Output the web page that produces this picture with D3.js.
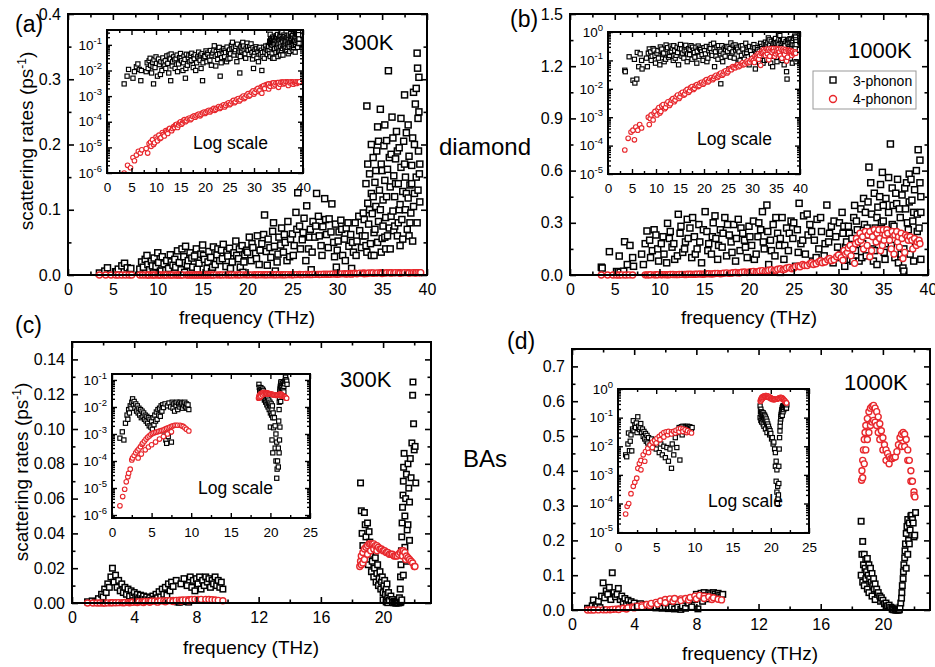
<!DOCTYPE html>
<html>
<head>
<meta charset="utf-8">
<script src="https://cdn.jsdelivr.net/npm/d3@7.9.0/dist/d3.min.js"></script>
<style>
  body { margin: 0; background: #fff; }
  text { font-family: "Liberation Sans", Arial, Helvetica, sans-serif; fill: #000; }
</style>
</head>
<body>
<svg id="fig" width="935" height="667"></svg>
<script>
// ---- data: [frequency (THz), scattering rate (ps^-1)] ----
const diamond300_3ph = [
  [3.5,0.003],[4.1,0.006],[4.4,0.011],[5.3,0.005],[5.6,0.009],[6.0,0.014],[6.3,0.018],[6.6,0.011],[6.9,0.004],[7.0,0.010],
  [8.0,0.009],[8.2,0.020],[8.4,0.012],[8.6,0.024],[8.8,0.030],[8.9,0.016],[9.1,0.008],[9.3,0.021],[9.4,0.014],[9.5,0.003],
  [9.6,0.026],[9.8,0.013],[10.0,0.034],[10.1,0.019],[10.3,0.006],[10.5,0.028],[10.7,0.017],[10.9,0.007],[11.0,0.022],[11.2,0.010],
  [11.4,0.031],[11.5,0.020],[11.7,0.015],[11.9,0.024],[12.0,0.012],[12.2,0.037],[12.4,0.019],[12.6,0.008],[12.7,0.040],[12.9,0.028],
  [13.0,0.004],[13.1,0.044],[13.3,0.015],[13.4,0.022],[13.6,0.034],[13.8,0.026],[13.9,0.012],[14.1,0.029],[14.3,0.040],[14.4,0.009],
  [14.6,0.018],[14.8,0.032],[15.0,0.046],[15.1,0.030],[15.2,0.024],[15.5,0.010],[15.6,0.020],[15.7,0.036],[15.9,0.027],[16.0,0.005],
  [16.1,0.012],[16.2,0.043],[16.4,0.016],[16.6,0.031],[16.7,0.040],[16.9,0.022],[17.1,0.038],[17.2,0.025],[17.3,0.047],[17.6,0.013],
  [17.7,0.035],[17.8,0.029],[18.0,0.041],[18.1,0.010],[18.3,0.020],[18.5,0.034],[18.7,0.052],[18.8,0.030],[19.0,0.025],[19.1,0.040],
  [19.2,0.012],[19.4,0.045],[19.5,0.004],[19.6,0.020],[19.7,0.031],[19.9,0.038],[20.0,0.035],[20.2,0.058],[20.4,0.022],[20.5,0.048],
  [20.6,0.042],[20.9,0.033],[21.0,0.025],[21.1,0.060],[21.3,0.016],[21.4,0.038],[21.6,0.048],[21.8,0.062],[21.9,0.092],[22.1,0.036],
  [22.2,0.015],[22.3,0.055],[22.5,0.042],[22.6,0.027],[22.8,0.067],[22.9,0.080],[23.0,0.044],[23.1,0.006],[23.3,0.020],[23.4,0.032],
  [23.5,0.058],[23.7,0.046],[23.8,0.072],[24.0,0.035],[24.1,0.062],[24.2,0.050],[24.4,0.022],[24.5,0.082],[24.7,0.028],[24.8,0.055],
  [25.0,0.063],[25.1,0.030],[25.2,0.045],[25.4,0.096],[25.5,0.070],[25.6,0.126],[25.8,0.075],[25.9,0.040],[26.1,0.054],[26.2,0.065],
  [26.3,0.087],[26.5,0.022],[26.6,0.106],[26.8,0.040],[26.9,0.058],[27.0,0.070],[27.1,0.008],[27.2,0.035],[27.3,0.082],[27.5,0.058],
  [27.6,0.075],[27.7,0.125],[27.9,0.090],[28.0,0.060],[28.2,0.045],[28.3,0.030],[28.4,0.074],[28.6,0.117],[28.7,0.085],[28.8,0.062],
  [29.0,0.042],[29.1,0.086],[29.3,0.066],[29.4,0.109],[29.6,0.050],[29.7,0.028],[29.8,0.078],[29.9,0.012],[30.0,0.038],[30.1,0.052],
  [30.2,0.066],[30.4,0.084],[30.5,0.070],[30.6,0.030],[30.8,0.055],[30.9,0.022],[31.0,0.072],[31.2,0.080],[31.3,0.044],[31.5,0.062],
  [31.6,0.010],[31.7,0.050],[31.8,0.035],[32.0,0.080],[32.1,0.030],[32.2,0.052],[32.4,0.090],[32.5,0.068],[32.7,0.042],[32.8,0.060],
  [32.9,0.095],[33.0,0.085],[33.1,0.060],[33.2,0.140],[33.2,0.045],[33.3,0.259],[33.3,0.035],[33.4,0.110],[33.4,0.170],[33.5,0.078],
  [33.6,0.155],[33.6,0.100],[33.7,0.048],[33.8,0.125],[33.8,0.030],[33.8,0.200],[33.9,0.094],[34.0,0.180],[34.0,0.120],[34.1,0.065],
  [34.1,0.030],[34.2,0.142],[34.2,0.070],[34.3,0.105],[34.3,0.160],[34.4,0.190],[34.5,0.227],[34.5,0.050],[34.6,0.082],[34.6,0.205],
  [34.7,0.130],[34.8,0.254],[34.8,0.100],[34.9,0.170],[34.9,0.035],[35.0,0.056],[35.0,0.160],[35.1,0.115],[35.1,0.075],[35.2,0.198],
  [35.3,0.145],[35.3,0.058],[35.3,0.230],[35.4,0.088],[35.4,0.040],[35.5,0.206],[35.5,0.120],[35.6,0.162],[35.6,0.060],[35.7,0.313],
  [35.8,0.072],[35.8,0.180],[35.9,0.135],[35.9,0.040],[36.0,0.185],[36.0,0.090],[36.1,0.242],[36.2,0.098],[36.2,0.210],[36.3,0.152],
  [36.3,0.068],[36.4,0.120],[36.4,0.075],[36.5,0.178],[36.5,0.140],[36.6,0.220],[36.7,0.060],[36.7,0.190],[36.8,0.140],[36.8,0.080],
  [36.9,0.195],[36.9,0.100],[37.0,0.108],[37.0,0.045],[37.1,0.165],[37.1,0.240],[37.2,0.085],[37.3,0.128],[37.3,0.055],[37.4,0.205],
  [37.5,0.276],[37.5,0.170],[37.6,0.150],[37.6,0.100],[37.7,0.218],[37.7,0.125],[37.8,0.070],[37.9,0.118],[37.9,0.230],[38.0,0.182],
  [38.0,0.060],[38.1,0.138],[38.1,0.080],[38.2,0.095],[38.3,0.168],[38.3,0.140],[38.4,0.210],[38.4,0.052],[38.5,0.280],[38.5,0.105],
  [38.6,0.125],[38.6,0.200],[38.7,0.262],[38.8,0.286],[38.8,0.150],[38.9,0.340],[38.9,0.080],[38.95,0.317],[39.0,0.240],[39.0,0.130],
  [39.05,0.190],[39.1,0.303],[39.1,0.250],[39.15,0.155],[39.2,0.112],[39.2,0.170]
];
const diamond300_4ph = [
  [3.5,1.0e-6],[4.2,2.0e-6],[4.8,1.6e-6],[5.3,4e-6],[5.6,3e-6],[6.0,5e-6],[6.4,7e-6],[6.8,6e-6],[7.1,8e-6],[8.0,9e-6],
  [8.3,6e-6],[8.6,1.4e-5],[8.9,1.6e-5],[9.0,1.1e-5],[9.3,2.0e-5],[9.5,1.3e-5],[9.7,1.5e-5],[10.0,2.5e-5],[10.2,2.1e-5],[10.3,1.8e-5],
  [10.6,3.0e-5],[10.8,2.2e-5],[11.0,2.4e-5],[11.3,3.8e-5],[11.5,3.2e-5],[11.7,2.8e-5],[12.0,4.5e-5],[12.2,4e-5],[12.4,3.5e-5],[12.6,5.0e-5],
  [12.8,5.5e-5],[13.2,4.5e-5],[13.4,5.5e-5],[13.6,6.5e-5],[13.8,6e-5],[14.0,7.5e-5],[14.2,8e-5],[14.4,6.0e-5],[14.6,7.5e-5],[14.8,9.0e-5],
  [15.0,1.0e-4],[15.2,8.0e-5],[15.4,9e-5],[15.6,1.1e-4],[15.8,1.2e-4],[16.0,1.0e-4],[16.2,1.1e-4],[16.5,1.3e-4],[16.8,1.4e-4],[17.0,1.2e-4],
  [17.2,1.3e-4],[17.5,1.6e-4],[17.8,1.7e-4],[18.0,1.5e-4],[18.2,1.7e-4],[18.5,1.9e-4],[18.8,2.0e-4],[19.0,1.7e-4],[19.2,1.9e-4],[19.5,2.2e-4],
  [19.8,2.4e-4],[20.0,2.1e-4],[20.2,2.3e-4],[20.5,2.6e-4],[20.8,2.8e-4],[21.0,2.4e-4],[21.2,2.7e-4],[21.5,3.0e-4],[21.8,3.3e-4],[22.0,2.8e-4],
  [22.2,3.1e-4],[22.5,3.5e-4],[22.8,3.9e-4],[23.0,3.3e-4],[23.2,3.6e-4],[23.5,4.2e-4],[23.8,4.6e-4],[24.0,3.8e-4],[24.2,4.3e-4],[24.5,5.0e-4],
  [24.8,5.5e-4],[25.0,4.6e-4],[25.2,5.0e-4],[25.5,6.0e-4],[25.8,6.8e-4],[26.0,5.5e-4],[26.2,6.0e-4],[26.5,7.5e-4],[26.8,8.0e-4],[27.0,6.5e-4],
  [27.2,7.2e-4],[27.5,9.0e-4],[27.8,1.0e-3],[28.0,8.0e-4],[28.2,9.0e-4],[28.5,1.1e-3],[28.8,1.25e-3],[29.0,1.0e-3],[29.2,1.1e-3],[29.5,1.4e-3],
  [29.8,1.6e-3],[30.0,1.2e-3],[30.2,1.4e-3],[30.5,1.8e-3],[30.8,2.0e-3],[31.0,1.5e-3],[31.2,1.7e-3],[31.5,2.3e-3],[31.6,1.3e-3],[31.8,2.4e-3],
  [32.0,2.6e-3],[32.2,2.0e-3],[32.5,2.8e-3],[32.8,2.9e-3],[33.0,3.0e-3],[33.0,1.9e-3],[33.3,2.4e-3],[33.5,3.1e-3],[33.8,3.2e-3],[34.0,2.5e-3],
  [34.0,3.3e-3],[34.3,2.8e-3],[34.5,3.3e-3],[34.8,3.4e-3],[35.0,3.4e-3],[35.0,2.2e-3],[35.3,2.9e-3],[35.5,3.5e-3],[35.8,3.5e-3],[36.0,3.0e-3],
  [36.0,3.5e-3],[36.3,3.2e-3],[36.5,3.6e-3],[36.8,3.6e-3],[37.0,3.5e-3],[37.0,2.6e-3],[37.3,3.3e-3],[37.5,3.6e-3],[37.8,3.6e-3],[38.0,3.5e-3],
  [38.0,2.9e-3],[38.3,3.3e-3],[38.5,3.6e-3],[38.7,3.1e-3],[38.8,3.6e-3],[39.0,3.6e-3],[39.2,3.4e-3],[39.3,3.6e-3]
];
const diamond1000_3ph = [
  [3.5,0.045],[3.6,0.04],[4.4,0.134],[5.2,0.02],[5.5,0.109],[5.6,0.016],[6.0,0.022],[6.1,0.191],[6.4,0.06],[6.7,0.17],
  [7.0,0.10],[7.1,0.05],[8.0,0.12],[8.2,0.06],[8.4,0.18],[8.6,0.253],[8.9,0.20],[9.0,0.10],[9.2,0.14],[9.4,0.26],
  [9.6,0.23],[9.8,0.15],[9.9,0.08],[10.2,0.18],[10.4,0.22],[10.5,0.12],[10.8,0.07],[10.9,0.297],[11.1,0.21],[11.2,0.25],
  [11.4,0.16],[11.6,0.18],[11.7,0.09],[12.0,0.11],[12.1,0.349],[12.3,0.24],[12.4,0.28],[12.6,0.13],[12.8,0.15],[12.9,0.19],
  [13.1,0.32],[13.2,0.21],[13.4,0.27],[13.6,0.10],[13.7,0.33],[13.9,0.22],[14.0,0.12],[14.2,0.15],[14.4,0.29],[14.5,0.19],
  [14.7,0.07],[14.9,0.26],[15.1,0.364],[15.3,0.25],[15.4,0.14],[15.5,0.18],[15.8,0.12],[15.9,0.22],[16.0,0.30],[16.2,0.34],
  [16.3,0.21],[16.5,0.09],[16.6,0.17],[16.8,0.26],[17.0,0.16],[17.1,0.24],[17.3,0.33],[17.5,0.11],[17.6,0.29],[17.8,0.23],
  [18.0,0.19],[18.1,0.13],[18.3,0.29],[18.5,0.08],[18.6,0.21],[18.8,0.32],[19.0,0.14],[19.1,0.27],[19.3,0.24],[19.5,0.20],
  [19.6,0.16],[19.8,0.10],[20.0,0.28],[20.1,0.22],[20.3,0.17],[20.5,0.31],[20.6,0.09],[20.8,0.12],[21.0,0.22],[21.1,0.30],
  [21.3,0.26],[21.5,0.364],[21.6,0.19],[21.7,0.15],[22.0,0.402],[22.1,0.25],[22.2,0.06],[22.4,0.20],[22.5,0.14],[22.7,0.29],
  [22.9,0.11],[23.0,0.33],[23.2,0.24],[23.4,0.17],[23.5,0.015],[23.5,0.21],[23.7,0.33],[23.9,0.09],[24.0,0.17],[24.2,0.27],
  [24.4,0.14],[24.5,0.24],[24.7,0.31],[24.9,0.21],[25.0,0.30],[25.2,0.05],[25.4,0.26],[25.5,0.13],[25.6,0.412],[25.8,0.18],
  [26.0,0.20],[26.1,0.34],[26.3,0.12],[26.5,0.35],[26.6,0.23],[26.8,0.29],[27.0,0.25],[27.1,0.08],[27.3,0.20],[27.5,0.10],
  [27.6,0.32],[27.8,0.15],[28.0,0.33],[28.1,0.25],[28.4,0.11],[28.5,0.18],[28.7,0.402],[28.9,0.19],[29.0,0.24],[29.2,0.28],
  [29.4,0.07],[29.5,0.31],[29.7,0.22],[29.9,0.16],[30.0,0.10],[30.1,0.30],[30.3,0.12],[30.4,0.36],[30.5,0.24],[30.6,0.28],
  [30.7,0.05],[30.8,0.16],[30.9,0.19],[31.0,0.13],[31.1,0.28],[31.2,0.24],[31.3,0.09],[31.5,0.21],[31.6,0.08],[31.7,0.33],
  [31.8,0.40],[31.9,0.14],[32.0,0.31],[32.1,0.26],[32.3,0.08],[32.4,0.20],[32.5,0.38],[32.6,0.10],[32.7,0.18],[32.8,0.44],
  [32.9,0.29],[33.0,0.36],[33.1,0.11],[33.2,0.27],[33.3,0.42],[33.4,0.62],[33.5,0.23],[33.6,0.53],[33.7,0.35],[33.8,0.15],
  [33.9,0.08],[34.0,0.47],[34.0,0.14],[34.1,0.27],[34.3,0.06],[34.3,0.33],[34.4,0.39],[34.6,0.20],[34.6,0.45],[34.7,0.52],
  [34.8,0.30],[34.9,0.59],[35.0,0.31],[35.0,0.40],[35.1,0.13],[35.2,0.09],[35.3,0.44],[35.3,0.18],[35.4,0.24],[35.6,0.36],
  [35.6,0.56],[35.8,0.753],[35.9,0.17],[36.0,0.50],[36.0,0.29],[36.1,0.40],[36.2,0.28],[36.3,0.10],[36.4,0.47],[36.5,0.41],
  [36.6,0.55],[36.7,0.07],[36.8,0.22],[36.8,0.38],[36.9,0.33],[37.0,0.12],[37.1,0.46],[37.2,0.04],[37.3,0.15],[37.3,0.022],
  [37.4,0.50],[37.5,0.38],[37.6,0.53],[37.7,0.30],[37.8,0.26],[37.9,0.58],[37.9,0.42],[38.0,0.12],[38.1,0.55],[38.2,0.43],
  [38.3,0.31],[38.4,0.08],[38.4,0.36],[38.5,0.49],[38.6,0.19],[38.7,0.60],[38.8,0.35],[38.8,0.25],[38.9,0.72],[39.0,0.27],
  [39.1,0.66],[39.1,0.53],[39.2,0.45],[39.2,0.09],[39.2,0.36]
];
const diamond1000_4ph = [
  [3.5,7e-5],[4.2,1.8e-4],[4.8,3e-4],[5.2,3.5e-4],[5.5,1.6e-4],[5.8,4.5e-4],[6.2,3.5e-4],[6.6,5.5e-4],[7.0,4.2e-4],[8.4,1.0e-3],
  [8.6,5.5e-4],[8.8,9e-4],[9.0,1.2e-3],[9.4,8e-4],[9.6,1.4e-3],[9.8,1.6e-3],[10.2,1.2e-3],[10.4,1.9e-3],[10.6,2.2e-3],[10.8,1.4e-3],
  [11.0,1.6e-3],[11.2,2.5e-3],[11.5,2.8e-3],[11.8,2.0e-3],[12.0,2.2e-3],[12.2,3.0e-3],[12.5,3.5e-3],[12.8,2.6e-3],[13.0,3.0e-3],[13.2,4.0e-3],
  [13.5,4.5e-3],[13.8,3.5e-3],[14.0,4.0e-3],[14.2,5.2e-3],[14.5,6.0e-3],[14.8,4.6e-3],[15.0,5.2e-3],[15.2,6.8e-3],[15.5,7.5e-3],[15.8,6.0e-3],
  [16.0,6.5e-3],[16.2,8.5e-3],[16.5,9.5e-3],[16.8,7.5e-3],[17.0,8.5e-3],[17.2,1.1e-2],[17.5,1.2e-2],[17.8,9.5e-3],[18.0,1.05e-2],[18.2,1.3e-2],
  [18.5,1.4e-2],[18.8,1.2e-2],[19.0,1.3e-2],[19.2,1.6e-2],[19.5,1.7e-2],[19.8,1.45e-2],[20.0,1.6e-2],[20.2,1.9e-2],[20.5,2.1e-2],[20.8,1.75e-2],
  [21.0,1.9e-2],[21.2,2.3e-2],[21.5,2.5e-2],[21.8,2.1e-2],[22.0,2.3e-2],[22.2,2.7e-2],[22.5,3.0e-2],[22.8,2.5e-2],[23.0,2.8e-2],[23.2,3.3e-2],
  [23.5,3.6e-2],[23.8,3.0e-2],[24.0,3.3e-2],[24.2,4.0e-2],[24.5,4.3e-2],[24.8,3.6e-2],[25.0,4.0e-2],[25.2,4.8e-2],[25.5,5.2e-2],[25.7,4.7e-2],
  [26.0,6.0e-2],[26.2,5.5e-2],[26.5,5.5e-2],[26.8,6.5e-2],[27.0,7.0e-2],[27.2,6.0e-2],[27.5,6.5e-2],[27.8,7.6e-2],[28.0,8.2e-2],[28.2,7.0e-2],
  [28.5,7.5e-2],[28.8,8.8e-2],[29.0,9.5e-2],[29.2,8.2e-2],[29.5,8.8e-2],[29.8,0.105],[30.0,0.115],[30.3,0.10],[30.5,0.085],[30.6,0.14],
  [30.8,0.12],[31.0,0.13],[31.1,0.155],[31.3,0.17],[31.4,0.11],[31.6,0.15],[31.8,0.067],[31.9,0.18],[32.0,0.21],[32.2,0.19],
  [32.4,0.24],[32.5,0.20],[32.7,0.22],[32.8,0.15],[33.0,0.25],[33.2,0.17],[33.3,0.23],[33.5,0.105],[33.5,0.25],[33.7,0.14],
  [33.8,0.22],[34.0,0.26],[34.2,0.19],[34.3,0.24],[34.5,0.26],[34.6,0.21],[34.7,0.14],[34.9,0.17],[35.0,0.26],[35.1,0.20],
  [35.2,0.23],[35.4,0.26],[35.5,0.24],[35.7,0.20],[35.9,0.15],[36.0,0.25],[36.2,0.12],[36.3,0.23],[36.5,0.25],[36.6,0.19],
  [36.7,0.22],[36.8,0.16],[37.0,0.24],[37.1,0.21],[37.2,0.095],[37.4,0.13],[37.5,0.23],[37.7,0.22],[37.8,0.20],[38.0,0.22],
  [38.2,0.20],[38.3,0.15],[38.5,0.21],[38.7,0.17],[38.8,0.19],[39.0,0.20],[39.1,0.18]
];
const bas300_3ph = [
  [1.0,7e-4],[1.3,1.2e-3],[1.5,6e-4],[1.7,2.5e-3],[1.9,5e-3],[2.0,3.5e-3],[2.1,8e-3],[2.2,0.006],[2.3,0.011],[2.4,0.009],
  [2.5,0.015],[2.6,0.020],[2.7,0.012],[2.8,0.016],[2.9,0.009],[3.0,0.013],[3.1,0.007],[3.2,0.011],[3.3,0.006],[3.4,0.009],
  [3.5,0.005],[3.6,0.008],[3.7,0.004],[3.8,0.007],[3.9,0.0045],[4.0,0.006],[4.1,0.0035],[4.2,0.005],[4.3,0.003],[4.4,0.0045],
  [4.5,0.0025],[4.6,0.004],[4.7,0.002],[4.8,0.0035],[4.9,0.0018],[5.0,0.003],[5.1,0.0015],[5.2,0.004],[5.3,0.0022],[5.4,0.005],
  [5.5,0.003],[5.6,0.0065],[5.7,0.0035],[5.8,0.008],[5.9,0.005],[6.0,0.009],[6.1,0.0045],[6.2,0.011],[6.3,0.007],[6.4,0.012],
  [6.5,0.0095],[6.6,0.0013],[6.7,0.013],[6.8,0.0006],[6.9,0.00045],[7.0,0.011],[7.1,0.0008],[7.2,0.014],[7.3,0.0012],[7.4,0.010],
  [7.5,0.0005],[7.6,0.015],[7.7,0.009],[7.8,0.013],[7.9,0.007],[8.0,0.014],[8.1,0.011],[8.2,0.015],[8.3,0.008],[8.4,0.013],
  [8.5,0.010],[8.6,0.015],[8.7,0.012],[8.8,0.014],[8.9,0.009],[9.0,0.013],[9.1,0.011],[9.2,0.015],[9.3,0.010],[9.4,0.013],
  [9.5,0.009],[9.6,0.012],[9.7,0.008],
  [18.55,0.069],[18.6,0.053],[18.65,0.040],[18.7,0.033],[18.75,0.026],[18.8,0.052],[18.85,0.045],[18.9,0.038],[18.95,0.030],[19.0,0.046],
  [19.05,0.022],[19.1,0.041],[19.15,0.035],[19.2,0.028],[19.25,0.018],[19.3,0.024],[19.35,0.031],[19.4,0.015],[19.45,0.020],[19.5,0.026],
  [19.55,0.012],[19.6,0.017],[19.65,0.022],[19.7,0.010],[19.75,0.014],[19.8,0.018],[19.85,0.008],[19.9,0.012],[19.95,0.015],[20.0,0.006],
  [20.0,0.0018],[20.05,0.010],[20.1,0.013],[20.15,0.005],[20.2,0.008],[20.2,0.0006],[20.25,0.011],[20.3,0.004],[20.3,0.0002],[20.35,0.006],
  [20.4,0.0017],[20.5,0.004],[20.6,0.002],[20.6,0.0003],[20.7,0.001],[20.7,0.0001],[20.8,0.0005],[20.8,0.000023],[20.85,0.00005],[20.9,0.0001],
  [21.0,0.00006],[21.0,0.0003],[21.05,0.003],[21.1,0.0002],[21.1,0.008],[21.12,0.015],[21.15,0.0006],[21.15,0.022],[21.18,0.030],[21.2,0.0018],
  [21.2,0.038],[21.22,0.046],[21.25,0.055],[21.28,0.062],[21.3,0.070],[21.3,0.016],[21.32,0.078],[21.35,0.086],[21.4,0.050],[21.4,0.032],
  [21.45,0.060],[21.5,0.074],[21.5,0.024],[21.55,0.042],[21.6,0.080],[21.6,0.045],[21.65,0.066],[21.7,0.058],[21.7,0.036],[21.75,0.083],
  [21.8,0.072],[21.85,0.092],[21.9,0.1194],[21.92,0.127],[21.96,0.103],[22.0,0.088],[22.06,0.090],[22.1,0.069]
];
const bas300_4ph = [
  [1.0,2.2e-6],[1.35,4.8e-6],[1.6,9e-6],[1.8,1.7e-5],[2.0,2.6e-5],[2.1,3.5e-5],[2.3,5e-5],[2.5,1.1e-4],[2.6,1.3e-4],[2.8,1.6e-4],
  [3.0,2.0e-4],[3.2,2.4e-4],[3.3,1.3e-4],[3.4,2.8e-4],[3.6,3.4e-4],[3.7,1.8e-4],[3.8,4.2e-4],[3.9,4.6e-4],[4.1,5.5e-4],[4.2,2.6e-4],
  [4.3,6.5e-4],[4.5,7.5e-4],[4.6,3.3e-4],[4.7,8.5e-4],[4.9,9.5e-4],[5.0,4e-4],[5.1,1.05e-3],[5.3,1.1e-3],[5.5,1.15e-3],[5.5,5e-4],
  [5.7,1.2e-3],[5.9,1.25e-3],[6.0,6.5e-4],[6.1,1.3e-3],[6.3,1.35e-3],[6.5,1.4e-3],[6.5,8e-4],[6.7,1.5e-3],[6.9,1.6e-3],[7.0,1.0e-3],
  [7.1,1.7e-3],[7.3,1.8e-3],[7.5,1.9e-3],[7.5,1.2e-3],[7.7,2.0e-3],[7.9,2.1e-3],[8.1,2.1e-3],[8.3,2.1e-3],[8.6,2.1e-3],[8.8,2.0e-3],
  [9.0,1.9e-3],[9.2,1.7e-3],[9.4,1.5e-3],[9.7,1.3e-3],
  [18.5,0.021],[18.55,0.024],[18.6,0.027],[18.6,0.022],[18.7,0.029],[18.7,0.023],[18.8,0.031],[18.8,0.025],[18.9,0.032],[19.0,0.033],
  [19.0,0.028],[19.1,0.034],[19.2,0.034],[19.2,0.030],[19.3,0.034],[19.4,0.034],[19.4,0.031],[19.5,0.033],[19.6,0.033],[19.6,0.030],
  [19.7,0.032],[19.8,0.031],[19.9,0.031],[20.0,0.030],[20.1,0.030],[20.2,0.029],[20.3,0.029],[20.4,0.028],[20.5,0.028],[20.6,0.028],
  [20.7,0.027],[20.8,0.027],[20.9,0.027],[21.0,0.028],[21.1,0.029],[21.2,0.030],[21.25,0.027],[21.3,0.030],[21.4,0.029],[21.45,0.025],
  [21.5,0.027],[21.6,0.026],[21.7,0.025],[21.8,0.024],[21.9,0.023],[22.0,0.021],[22.05,0.021]
];
const bas1000_3ph = [
  [1.0,0.005],[1.14,0.0043],[1.3,0.012],[1.37,0.029],[1.5,0.007],[1.6,0.015],[1.7,0.025],[1.8,0.0069],[1.9,0.040],[2.0,0.078],
  [2.1,0.035],[2.2,0.055],[2.3,0.045],[2.4,0.065],[2.5,0.030],[2.59,0.107],[2.7,0.050],[2.8,0.038],[2.9,0.045],[2.98,0.062],
  [3.1,0.030],[3.2,0.040],[3.3,0.022],[3.4,0.033],[3.5,0.018],[3.6,0.028],[3.7,0.015],[3.8,0.024],[3.9,0.013],[4.0,0.020],
  [4.2,0.011],[4.4,0.018],[4.6,0.009],[4.8,0.016],[5.0,0.008],[5.2,0.014],[5.4,0.006],[5.6,0.012],[5.8,0.005],[6.0,0.010],
  [6.2,0.004],[6.4,0.009],[6.6,0.003],[6.8,0.008],[7.0,0.0017],[7.1,0.012],[7.3,0.005],[7.5,0.020],[7.7,0.009],[7.9,0.030],
  [8.0,0.045],[8.1,0.0033],[8.2,0.038],[8.3,0.048],[8.4,0.025],[8.5,0.050],[8.6,0.042],[8.7,0.032],[8.8,0.049],[8.9,0.044],
  [9.0,0.036],[9.1,0.050],[9.2,0.046],[9.3,0.040],[9.4,0.048],[9.5,0.043],[9.6,0.038],[9.7,0.045],
  [18.6,0.255],[18.6,0.10],[18.65,0.16],[18.7,0.197],[18.7,0.08],[18.75,0.13],[18.8,0.16],[18.8,0.07],[18.85,0.12],[18.9,0.145],
  [18.9,0.09],[18.95,0.11],[19.0,0.148],[19.0,0.06],[19.05,0.10],[19.1,0.13],[19.1,0.05],[19.15,0.09],[19.2,0.12],[19.25,0.08],
  [19.3,0.105],[19.3,0.04],[19.35,0.07],[19.4,0.09],[19.45,0.06],[19.5,0.075],[19.5,0.03],[19.6,0.06],[19.65,0.045],[19.7,0.05],
  [19.8,0.04],[19.85,0.025],[19.9,0.035],[20.0,0.028],[20.1,0.018],[20.2,0.02],[20.3,0.012],[20.4,0.014],[20.5,0.008],[20.6,0.006],
  [20.6,0.002],[20.7,0.003],[20.7,0.0006],[20.8,0.0015],[20.8,0.00025],[20.85,0.0001],[20.9,0.0004],[20.95,0.00015],[21.0,0.0002],[21.05,0.0005],
  [21.05,0.002],[21.1,0.008],[21.15,0.02],[21.2,0.034],[21.22,0.05],[21.25,0.07],[21.3,0.09],[21.32,0.11],[21.35,0.13],[21.4,0.15],
  [21.42,0.17],[21.45,0.19],[21.5,0.22],[21.5,0.12],[21.55,0.24],[21.6,0.26],[21.6,0.16],[21.65,0.20],[21.7,0.25],[21.7,0.19],
  [21.75,0.23],[21.8,0.27],[21.85,0.272],[21.9,0.26],[21.95,0.25],[22.0,0.21],[22.05,0.215],[22.1,0.28]
];
const bas1000_4ph = [
  [1.0,4.3e-5],[1.2,8e-5],[1.4,1e-4],[1.7,2.2e-4],[2.0,4e-4],[2.2,5.5e-4],[2.45,7.7e-4],[2.6,1.7e-3],[2.8,2.5e-3],[3.0,3.2e-3],
  [3.0,1.5e-3],[3.3,5e-3],[3.5,3e-3],[3.6,6.5e-3],[3.9,8.5e-3],[4.0,6e-3],[4.2,0.011],[4.5,0.014],[4.5,9e-3],[4.8,0.016],
  [5.0,0.013],[5.1,0.019],[5.4,0.022],[5.5,0.017],[5.7,0.026],[6.0,0.030],[6.0,0.021],[6.3,0.032],[6.5,0.025],[6.6,0.033],
  [7.0,0.032],[7.0,0.027],[7.3,0.033],[7.5,0.029],[7.6,0.036],[7.9,0.040],[8.0,0.032],[8.2,0.042],[8.5,0.040],[8.5,0.033],
  [8.8,0.038],[9.0,0.030],[9.1,0.035],[9.4,0.031],[9.62,0.029],
  [18.63,0.373],[18.65,0.40],[18.7,0.43],[18.7,0.38],[18.75,0.46],[18.8,0.49],[18.8,0.42],[18.85,0.51],[18.9,0.53],[18.9,0.46],
  [19.0,0.55],[19.0,0.49],[19.1,0.57],[19.1,0.51],[19.2,0.58],[19.2,0.53],[19.3,0.585],[19.3,0.54],[19.4,0.588],[19.4,0.545],
  [19.5,0.58],[19.5,0.54],[19.6,0.57],[19.6,0.53],[19.7,0.555],[19.7,0.51],[19.8,0.535],[19.8,0.49],[19.9,0.515],[20.0,0.495],
  [20.0,0.46],[20.1,0.475],[20.2,0.46],[20.2,0.43],[20.3,0.45],[20.4,0.44],[20.4,0.42],[20.5,0.435],[20.6,0.435],[20.7,0.438],
  [20.8,0.44],[20.9,0.455],[21.0,0.475],[21.1,0.495],[21.2,0.505],[21.2,0.47],[21.3,0.51],[21.4,0.505],[21.4,0.47],[21.5,0.49],
  [21.6,0.46],[21.6,0.43],[21.7,0.43],[21.8,0.40],[21.8,0.37],[21.9,0.37],[22.0,0.34],[22.0,0.33],[22.06,0.325]
];

// axis tick values
const freqTicks40 = [0, 5, 10, 15, 20, 25, 30, 35, 40];
const freqMinor40 = [2.5, 7.5, 12.5, 17.5, 22.5, 27.5, 32.5, 37.5];
const freqTicks20 = [0, 4, 8, 12, 16, 20];
const freqMinor20 = [2, 6, 10, 14, 18, 22];
const freqTicks25 = [0, 5, 10, 15, 20, 25];
const freqMinor25 = [2.5, 7.5, 12.5, 17.5, 22.5];
const rateTicksA = [0, 0.1, 0.2, 0.3, 0.4];
const rateTicksB = [0, 0.3, 0.6, 0.9, 1.2, 1.5];
const rateTicksC = [0, 0.02, 0.04, 0.06, 0.08, 0.10, 0.12, 0.14];
const rateTicksD = [0, 0.1, 0.2, 0.3, 0.4, 0.5, 0.6, 0.7];
const decadesA = [-6, -5, -4, -3, -2, -1];
const decadesB = [-5, -4, -3, -2, -1, 0];
const decadesC = [-6, -5, -4, -3, -2, -1];
const decadesD = [-5, -4, -3, -2, -1, 0];

const RED = '#e8272c';
const FONT = '"Liberation Sans", Arial, Helvetica, sans-serif';
const svg = d3.select('#fig');

const panels = [
  { tag: '(a)', tagXY: [15, 32], temp: '300K', tempXY: [342, 50], three: diamond300_3ph, four: diamond300_4ph,
    box: [68, 427, 14, 275], xDom: [0, 40], xTicks: freqTicks40, xMinor: freqMinor40,
    yDom: [0, 0.4], yTicks: rateTicksA, yFmt: d3.format('.1f'), sq: 6, r: 3,
    inset: { box: [107, 303, 30, 173], xDom: [0, 40], xTicks: freqTicks40, xMinor: freqMinor40,
             yDom: [1e-6, 0.38], decades: decadesA, logXY: [193, 149] },
    xlab: [247, 324], ylab: [26, 141] },
  { tag: '(b)', tagXY: [510, 27], temp: '1000K', tempXY: [848, 58], three: diamond1000_3ph, four: diamond1000_4ph,
    box: [570, 928, 14, 275], xDom: [0, 40], xTicks: freqTicks40, xMinor: freqMinor40,
    yDom: [0, 1.5], yTicks: rateTicksB, yFmt: d3.format('.1f'), sq: 6, r: 3,
    inset: { box: [608, 800, 32, 174], xDom: [0, 40], xTicks: freqTicks40, xMinor: freqMinor40,
             yDom: [1e-5, 1], decades: decadesB, logXY: [697, 145] },
    xlab: [749, 324], legend: true },
  { tag: '(c)', tagXY: [15, 333], temp: '300K', tempXY: [340, 387], three: bas300_3ph, four: bas300_4ph,
    box: [72, 431, 342, 603], xDom: [0, 23.08], xTicks: freqTicks20, xMinor: freqMinor20,
    yDom: [0, 0.15], yTicks: rateTicksC, yFmt: d3.format('.2f'), sq: 5.5, r: 3,
    inset: { box: [112, 310, 374, 518], xDom: [0, 25], xTicks: freqTicks25, xMinor: freqMinor25,
             yDom: [Math.pow(10, -6.11), Math.pow(10, -0.78)], decades: decadesC, logXY: [198, 494] },
    xlab: [251, 654], ylab: [21, 472] },
  { tag: '(d)', tagXY: [507, 349], temp: '1000K', tempXY: [844, 390], three: bas1000_3ph, four: bas1000_4ph,
    box: [572, 930, 349, 610], xDom: [0, 23.03], xTicks: freqTicks20, xMinor: freqMinor20,
    yDom: [0, 0.75], yTicks: rateTicksD, yFmt: d3.format('.1f'), sq: 5.5, r: 3,
    inset: { box: [618, 809, 389, 533], xDom: [0, 25], xTicks: freqTicks25, xMinor: freqMinor25,
             yDom: [Math.pow(10, -5.03), 1], decades: decadesD, logXY: [708, 507] },
    xlab: [750, 660] }
];

function styleAxis(sel, fs, tw) {
  sel.select('.domain').remove();
  sel.attr('font-size', fs).attr('font-family', FONT);
  sel.selectAll('.tick line').attr('stroke', '#000').attr('stroke-width', tw);
  sel.selectAll('.tick text').attr('fill', '#000');
}

// inward ticks on all four sides, labels only bottom/left
function drawFrame(g, x, y, o) {
  const [x0, x1, y0, y1] = o.box;
  const add = (axis, tx, ty) => g.append('g').attr('transform', `translate(${tx},${ty})`)
    .call(axis).call(s => styleAxis(s, o.fs, o.tw));
  add(d3.axisBottom(x).tickValues(o.xTicks).tickSize(-o.maj).tickPadding(o.padX).tickFormat(d3.format('d')), 0, y1);
  add(d3.axisBottom(x).tickValues(o.xMinor).tickSize(-o.min).tickFormat(''), 0, y1);
  add(d3.axisTop(x).tickValues(o.xTicks).tickSize(-o.maj).tickFormat(''), 0, y0);
  add(d3.axisTop(x).tickValues(o.xMinor).tickSize(-o.min).tickFormat(''), 0, y0);
  add(d3.axisLeft(y).tickValues(o.yTicks).tickSize(-o.maj).tickPadding(o.padY).tickFormat(o.yFmt), x0, 0);
  add(d3.axisLeft(y).tickValues(o.yMinor).tickSize(-o.min).tickFormat(''), x0, 0);
  add(d3.axisRight(y).tickValues(o.yTicks).tickSize(-o.maj).tickFormat(''), x1, 0);
  add(d3.axisRight(y).tickValues(o.yMinor).tickSize(-o.min).tickFormat(''), x1, 0);
  g.append('rect').attr('x', x0).attr('y', y0).attr('width', x1 - x0).attr('height', y1 - y0)
    .attr('fill', 'none').attr('stroke', '#000').attr('stroke-width', 2);
}

function drawSquares(g, data, x, y, s, sw) {
  g.append('g').selectAll('rect').data(data).join('rect')
    .attr('x', d => x(d[0]) - s / 2).attr('y', d => y(d[1]) - s / 2)
    .attr('width', s).attr('height', s)
    .attr('fill', '#fff').attr('stroke', '#000').attr('stroke-width', sw);
}

function drawCircles(g, data, x, y, r, sw) {
  g.append('g').selectAll('circle').data(data).join('circle')
    .attr('cx', d => x(d[0])).attr('cy', d => y(d[1])).attr('r', r)
    .attr('fill', '#fff').attr('stroke', RED).attr('stroke-width', sw);
}

panels.forEach((p, i) => {
  const g = svg.append('g');
  const [x0, x1, y0, y1] = p.box;
  const x = d3.scaleLinear().domain(p.xDom).range([x0, x1]);
  const y = d3.scaleLinear().domain(p.yDom).range([y1, y0]);

  // main (linear) plot
  drawSquares(g, p.three, x, y, p.sq, 1.5);
  drawCircles(g, p.four, x, y, p.r, 1.4);
  const yMinor = p.yTicks.slice(0, -1).map((v, k) => (v + p.yTicks[k + 1]) / 2);
  if (p.yTicks[p.yTicks.length - 1] < p.yDom[1]) {
    const step = p.yTicks[1] - p.yTicks[0];
    yMinor.push(p.yTicks[p.yTicks.length - 1] + step / 2);
  }
  drawFrame(g, x, y, { box: p.box, xTicks: p.xTicks, xMinor: p.xMinor, yTicks: p.yTicks,
    yMinor: yMinor.filter(v => v <= p.yDom[1]), yFmt: p.yFmt, maj: 6, min: 3.5, tw: 1.6, fs: 16, padX: 8.5, padY: 7 });

  // inset (log) plot
  const q = p.inset;
  const [ix0, ix1, iy0, iy1] = q.box;
  const ix = d3.scaleLinear().domain(q.xDom).range([ix0, ix1]);
  const iy = d3.scaleLog().domain(q.yDom).range([iy1, iy0]);
  const ig = g.append('g');
  ig.append('rect').attr('x', ix0).attr('y', iy0).attr('width', ix1 - ix0).attr('height', iy1 - iy0).attr('fill', '#fff');
  ig.append('text').attr('x', q.logXY[0]).attr('y', q.logXY[1]).attr('font-size', 17.5).text('Log scale');
  const clipId = 'clip' + i;
  ig.append('clipPath').attr('id', clipId).append('rect')
    .attr('x', ix0).attr('y', iy0).attr('width', ix1 - ix0).attr('height', iy1 - iy0);
  const pts = ig.append('g').attr('clip-path', `url(#${clipId})`);
  drawSquares(pts, p.three, ix, iy, 4.2, 1.15);
  drawCircles(pts, p.four, ix, iy, 2.3, 1.1);

  const majors = q.decades.map(d => Math.pow(10, d));
  const minors = [];
  q.decades.concat([q.decades[q.decades.length - 1] + 1]).forEach(d => {
    for (let k = 2; k <= 9; k++) {
      const v = k * Math.pow(10, d - 1);
      if (v > q.yDom[0] && v < q.yDom[1]) minors.push(v);
    }
  });
  drawFrame(ig, ix, iy, { box: q.box, xTicks: q.xTicks, xMinor: q.xMinor, yTicks: majors, yMinor: minors,
    yFmt: () => '', maj: 5, min: 3, tw: 1.4, fs: 13.5, padX: 9, padY: 5 });
  // power-of-ten labels
  q.decades.forEach(d => {
    const t = ig.append('text').attr('x', ix0 - 5).attr('y', iy(Math.pow(10, d))).attr('dy', '0.35em')
      .attr('text-anchor', 'end').attr('font-size', 13.5);
    t.append('tspan').text('10');
    t.append('tspan').attr('dy', -6).attr('font-size', 9.5).text(d);
  });

  // annotations
  g.append('text').attr('x', p.tagXY[0]).attr('y', p.tagXY[1]).attr('font-size', 23).text(p.tag);
  g.append('text').attr('x', p.tempXY[0]).attr('y', p.tempXY[1]).attr('font-size', 22).text(p.temp);
  g.append('text').attr('x', p.xlab[0]).attr('y', p.xlab[1]).attr('text-anchor', 'middle')
    .attr('font-size', 19).text('frequency (THz)');
  if (p.ylab) {
    const t = g.append('text').attr('transform', `translate(${p.ylab[0]},${p.ylab[1]}) rotate(-90)`)
      .attr('text-anchor', 'middle').attr('dy', '0.35em').attr('font-size', 19);
    t.append('tspan').text('scattering rates (ps');
    t.append('tspan').attr('dy', -7).attr('font-size', 12).text('-1');
    t.append('tspan').attr('dy', 7).text(')');
  }
  if (p.legend) {
    const lg = g.append('g');
    lg.append('rect').attr('x', 813).attr('y', 71).attr('width', 103).attr('height', 38)
      .attr('fill', '#fff').attr('stroke', '#999').attr('stroke-width', 1);
    lg.append('rect').attr('x', 830).attr('y', 77).attr('width', 6).attr('height', 6)
      .attr('fill', '#fff').attr('stroke', '#000').attr('stroke-width', 1.4);
    lg.append('circle').attr('cx', 833).attr('cy', 99).attr('r', 3.5)
      .attr('fill', '#fff').attr('stroke', RED).attr('stroke-width', 1.4);
    lg.append('text').attr('x', 853).attr('y', 86).attr('font-size', 14).text('3-phonon');
    lg.append('text').attr('x', 853).attr('y', 104).attr('font-size', 14).text('4-phonon');
  }
});

// material labels between the columns
svg.append('text').attr('x', 485).attr('y', 155).attr('text-anchor', 'middle').attr('font-size', 24).text('diamond');
svg.append('text').attr('x', 485).attr('y', 467).attr('text-anchor', 'middle').attr('font-size', 24).text('BAs');
</script>
</body>
</html>
